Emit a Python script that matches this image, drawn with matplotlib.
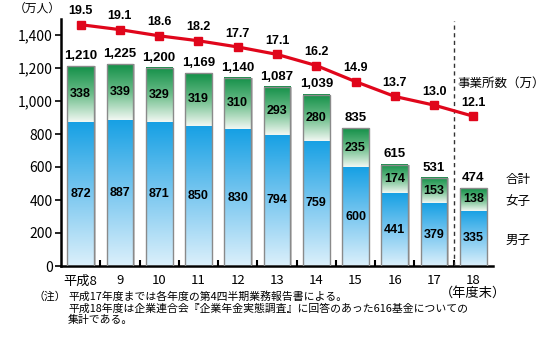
import numpy as np
import matplotlib
matplotlib.use("Agg")
import matplotlib.pyplot as plt
from matplotlib.colors import LinearSegmentedColormap
from matplotlib.ticker import FuncFormatter

plt.rcParams['font.family'] = ['Noto Sans CJK JP', 'DejaVu Sans']

# ── data ─────────────────────────────────────────────
years = ['平成8', '9', '10', '11', '12', '13', '14', '15', '16', '17', '18\n（年度末）']
male = [872, 887, 871, 850, 830, 794, 759, 600, 441, 379, 335]
female = [338, 339, 329, 319, 310, 293, 280, 235, 174, 153, 138]
total = [1210, 1225, 1200, 1169, 1140, 1087, 1039, 835, 615, 531, 474]
offices = [19.5, 19.1, 18.6, 18.2, 17.7, 17.1, 16.2, 14.9, 13.7, 13.0, 12.1]

notes = ['平成17年度までは各年度の第4四半期業務報告書による。',
         '平成18年度は企業連合会『企業年金実態調査』に回答のあった616基金についての',
         '集計である。']

NUM_FONT = ['Liberation Sans Narrow', 'Liberation Sans', 'DejaVu Sans']

fig = plt.figure(figsize=(5.55, 3.54), dpi=100)
ax = fig.add_axes([61 / 555, 1 - 266 / 354, 432 / 555, 247.5 / 354])

x = np.arange(len(years))
w = 0.68

blue_cmap = LinearSegmentedColormap.from_list('b', ['#dcf0fb', '#7cc8f0', '#16a0e4'])
green_cmap = LinearSegmentedColormap.from_list('g', ['#f2f8f3', '#6cbd8a', '#139048'])
grad = np.linspace(0, 1, 256).reshape(-1, 1)

for xi, m, f in zip(x, male, female):
    ax.imshow(grad, extent=[xi - w / 2, xi + w / 2, 0, m], origin='lower',
              aspect='auto', cmap=blue_cmap, zorder=2)
    ax.imshow(grad, extent=[xi - w / 2, xi + w / 2, m, m + f], origin='lower',
              aspect='auto', cmap=green_cmap, zorder=2)

# outlines / shadow
ax.bar(x + 0.04, total, width=w, color='#c8c8c8', zorder=1)
ax.bar(x, total, width=w, facecolor='none', edgecolor='#8a8a8a', linewidth=1.0, zorder=3)

ax.set_xlim(-0.5, len(years) - 0.5)
ax.set_ylim(0, 1500)

# value labels
for xi, m, f, t in zip(x, male, female, total):
    ax.text(xi, m / 2, f'{m}', ha='center', va='center', fontsize=9,
            fontweight='bold', family=NUM_FONT, zorder=5)
    ax.text(xi, m + f / 2, f'{f}', ha='center', va='center', fontsize=9,
            fontweight='bold', family=NUM_FONT, zorder=5)
    ax.text(xi, t + 25, f'{t:,}', ha='center', va='bottom', fontsize=9.5,
            fontweight='bold', family=NUM_FONT, zorder=5)

# spines and ticks
for s in ['top', 'right']:
    ax.spines[s].set_visible(False)
ax.spines['left'].set_linewidth(1.8)
ax.spines['bottom'].set_linewidth(1.8)
ax.set_yticks(range(0, 1401, 200))
ax.yaxis.set_major_formatter(FuncFormatter(lambda v, p: f'{int(v):,}'))
ax.tick_params(axis='y', direction='out', length=4, width=1.2, labelsize=10, pad=2)
ax.set_xticks(x)
ax.set_xticklabels(years, fontsize=9.5, linespacing=0.95)
ax.tick_params(axis='x', length=0, pad=6)
ax.set_xticks(np.arange(0.5, len(years) - 1, 1), minor=True)
ax.tick_params(axis='x', which='minor', direction='in', length=4, width=1.5)

# dashed separator
ax.axvline(9.5, ymin=0, ymax=0.99, color='#333333', linestyle=(0, (3, 2.5)),
           linewidth=1.0, zorder=4)

# secondary line: number of offices
ax2 = ax.twinx()
ax2.set_ylim(0, 20)
ax2.axis('off')
ax2.plot(x, offices, color='#e0061b', linewidth=2.3, marker='s', markersize=5.5,
         zorder=6)
for xi, v in zip(x, offices):
    ax2.text(xi, v + 0.6, f'{v:.1f}', ha='center', va='bottom', fontsize=9,
             fontweight='bold', family=NUM_FONT)

# labels
fig.text(61 / 555, 1 - 8 / 354, '（万人）', fontsize=8.5, ha='right', va='center')
fig.text(457 / 555, 1 - 83 / 354, '事業所数（万）', fontsize=9, ha='left', va='center')
fig.text(518 / 555, 1 - 180 / 354, '合計', fontsize=9, ha='center', va='center')
fig.text(518 / 555, 1 - 201 / 354, '女子', fontsize=9, ha='center', va='center')
fig.text(518 / 555, 1 - 240 / 354, '男子', fontsize=9, ha='center', va='center')

fig.text(66 / 555, 1 - 297 / 354, '（注）', fontsize=7.8, ha='right', va='center')
for i, line in enumerate(notes):
    fig.text(68 / 555, 1 - (297 + 11.5 * i) / 354, line, fontsize=7.8,
             ha='left', va='center')

fig.savefig('out.png', dpi=100)
